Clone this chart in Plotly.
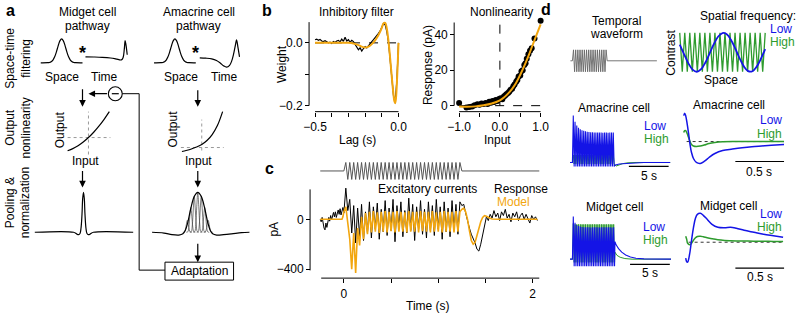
import plotly.graph_objects as go

W, H = 800, 315
FONT = "Liberation Sans, Arial, Helvetica, sans-serif"
BLUE = "#1414e6"
GREEN = "#2e9b2e"
ORANGE = "#F2A60F"
GRAY = "#555555"

# ======================= DATA =======================
# ---- panel a : schematic model ----
space_x = [-3, -2, -1.75, -1.5, -1.25, -1, -0.75, -0.5, -0.25, 0, 0.25, 0.5, 0.75, 1, 1.25, 1.5, 1.75, 2, 3]
space_y = [0, 0.004, 0.014, 0.044, 0.114, 0.249, 0.458, 0.707, 0.917, 1, 0.917, 0.707, 0.458, 0.249, 0.114, 0.044, 0.014, 0.004, 0]

midget_time_t = [0, 0.2, 0.4, 0.6, 0.7, 0.8, 0.86, 0.9, 0.93, 0.95, 0.97, 1.0]
midget_time_y = [0, -0.01, -0.03, -0.07, -0.11, -0.17, -0.18, -0.05, 0.45, 0.95, 0.7, 0.12]

amacrine_time_t = [0, 0.15, 0.3, 0.42, 0.52, 0.6, 0.675, 0.75, 0.8, 0.85, 0.9, 0.925, 0.96, 1.0]
amacrine_time_y = [0, -0.02, -0.06, -0.15, -0.3, -0.45, -0.52, -0.42, -0.2, 0.2, 0.75, 1.0, 0.6, 0.05]

nl_input = [-1, -0.75, -0.5, -0.25, 0, 0.25, 0.5, 0.75, 1]
midget_nl_out = [-0.66, -0.555, -0.41, -0.225, 0, 0.265, 0.57, 0.915, 1.3]
amacrine_nl_in = [-0.95, -0.75, -0.5, -0.25, 0, 0.25, 0.5, 0.75, 1]
amacrine_nl_out = [-0.4, -0.3, -0.15, 0.05, 0.3, 0.7, 1.3, 2.2, 3.6]

kernel_x = [-4.9, -1.0, -0.7, -0.5, -0.35, -0.25, -0.15, -0.08, 0, 0.08, 0.15, 0.25, 0.35, 0.5, 0.7, 1.0, 5.0]
kernel_y = [0, 0, -0.04, -0.06, -0.03, 0.1, 0.45, 0.85, 1.0, 0.85, 0.45, 0.1, -0.03, -0.06, -0.04, 0, 0]

amac_env_x = [-4.6, -3.4, -2.6, -1.9, -1.5, -1.25, -1.0, -0.7, -0.35, 0, 0.35, 0.7, 1.0, 1.25, 1.5, 1.9, 2.6, 3.4, 4.4, 5.2]
amac_env_y = [0, -0.02, -0.06, -0.07, -0.04, 0.05, 0.25, 0.6, 0.9, 1.0, 0.9, 0.6, 0.25, 0.05, -0.04, -0.07, -0.06, -0.04, -0.01, 0]
amac_sub_centers = [-1.05, -0.7, -0.35, 0, 0.35, 0.7, 1.05]
amac_sub_heights = [0.3, 0.62, 0.9, 1.0, 0.9, 0.62, 0.3]
sub_x = [-0.45, -0.3, -0.2, -0.1, 0, 0.1, 0.2, 0.3, 0.45]
sub_y = [0, 0.02, 0.2, 0.65, 1.0, 0.65, 0.2, 0.02, 0]

# ---- panel b : inhibitory filter ----
filt_data_lag = [round(-0.5 + 0.01 * i, 2) for i in range(51)]
filt_data = [0.010, 0.012, 0.008, 0.011, 0.006, 0.004, 0.007, 0.003, 0.000, 0.002,
             -0.002, 0.004, 0.001, 0.006, 0.008, 0.003, 0.012, 0.005, 0.018, 0.006,
             0.010, 0.002, 0.008, 0.004, -0.004, -0.012, -0.022, -0.016, -0.026, -0.018,
             -0.012, -0.016, -0.008, -0.002, 0.004, 0.010, 0.016, 0.022, 0.030, 0.038,
             0.048, 0.062, 0.058, 0.036, 0.002, -0.050, -0.110, -0.168, -0.192, -0.120, 0.000]
filt_model_lag = [-0.5, -0.4, -0.3, -0.27, -0.24, -0.22, -0.2, -0.18, -0.16, -0.14, -0.12, -0.1, -0.09,
                  -0.08, -0.07, -0.06, -0.05, -0.04, -0.03, -0.025, -0.02, -0.015, -0.01, -0.005, 0.0]
filt_model = [0.0, 0.0, 0.0, -0.002, -0.007, -0.012, -0.015, -0.012, -0.004, 0.008, 0.025, 0.048, 0.062,
              0.064, 0.045, 0.005, -0.05, -0.11, -0.165, -0.185, -0.192, -0.175, -0.13, -0.07, 0.0]

# ---- panel b : nonlinearity ----
nl_dots_x = [-1.0, -0.82, -0.75, -0.68, -0.62, -0.55, -0.5, -0.45, -0.4, -0.35, -0.3, -0.26, -0.22, -0.18,
             -0.14, -0.1, -0.06, -0.02, 0.02, 0.06, 0.1, 0.13, 0.16, 0.2, 0.23, 0.26, 0.3, 0.33, 0.36, 0.4,
             0.43, 0.46, 0.5, 0.53, 0.56, 0.6, 0.63, 0.66, 0.7, 0.74, 0.78, 0.85, 1.0]
nl_dots_y = [1.5, -1.0, -0.8, -0.5, 0.2, 0.8, 0.5, 1.2, 0.9, 1.5, 1.0, 2.2, 1.6, 2.6,
             2.0, 3.2, 2.6, 3.8, 4.2, 3.6, 5.2, 5.8, 6.4, 7.2, 7.8, 8.8, 9.5, 11.0, 12.0, 13.5,
             14.5, 16.5, 17.0, 19.5, 20.0, 23.0, 24.0, 26.5, 29.0, 31.0, 32.5, 38.0, 48.0]
nl_curve_x = [-1, -0.8, -0.6, -0.4, -0.2, 0, 0.1, 0.2, 0.3, 0.4, 0.5, 0.6, 0.7, 0.8, 0.9, 1.0]
nl_curve_y = [-0.5, -0.6, -0.4, 0.2, 1.2, 3.0, 4.6, 6.8, 9.5, 13.0, 17.5, 22.5, 28.0, 34.0, 40.0, 46.0]

# ---- panel c : excitatory currents ----
c_pre_t = [round(-0.25 + 0.01 * i, 2) for i in range(25)]
c_pre_black = [0, -20, 15, -40, -70, -85, -30, -65, -20, 15, -15, 30, -5, 25, 55, 20, 60, 15, 45, 75, 40, 85, 35, 60, 95]
c_pre_model = [0] * 24 + [20]
c_stim_t = [round(1.25 / 60 * k, 4) for k in range(61)]
c_stim_black = [50, 250, 70, 160, -110, 110, -190, 90, -140, 120, -170, 60, -110, 140, -150, 100, -80, 130,
                -160, 80, -100, 150, -130, 90, -90, 160, -180, 110, -70, 140, -140, 70, -110, 170, -90, 120,
                -170, 100, -80, 150, -120, 80, -150, 140, -90, 110, -130, 160, -80, 100, -160, 140, -100, 90,
                -140, 150, -90, 120, -120, 140, 110]
c_stim_model = [60, 100, -60, -160, -400, -110, -430, -70, -210, 20, -160, 50, -120,
                60, -105, 65, -100, 55, -110, 60, -100, 65, -105, 60, -95, 60, -105, 65, -100, 60, -100,
                55, -105, 65, -100, 60, -100, 60, -105, 65, -95, 60, -100, 60, -105, 65, -100, 55, -100,
                60, -105, 65, -100, 60, -100, 60, -105, 65, -100, 60, 80]
c_post_t = [round(1.27 + 0.02 * i, 2) for i in range(40)]
c_post_black = [120, 50, -20, -70, -120, -150, -190, -240, -255, -200, -120, -40, 20, -10, 40, 10, 70, 20, 50, -10,
                60, 30, 80, 10, 40, -20, 50, 20, 60, -10, 30, 50, 0, 40, 10, -30, 30, 0, 20, -10]
c_post_model = [90, 60, 0, -90, -170, -200, -185, -130, -70, -20, 15, 30, 25, 15, 8, 3, 0, 0, 0, 0,
                0, 0, 0, 0, 0, 0, 0, 0, 0, 0, 0, 0, 0, 0, 0, 0, 0, 0, 0, 0]
c_stim_wave = [0] + [1, -1] * 29 + [1, 0]

# ---- panel d ----
temporal_cycles = 16
spatial_low_x = [0, 0.05, 0.1, 0.15, 0.2, 0.25, 0.3, 0.35, 0.4, 0.45, 0.5, 0.55, 0.6, 0.65, 0.7, 0.75, 0.8, 0.85, 0.9, 0.95, 1.0]
spatial_low_y = [0.40, -0.09, -0.557, -0.887, -1.0, -0.868, -0.523, -0.051, 0.434, 0.813, 0.993, 0.928, 0.636, 0.19,
                 -0.303, -0.722, -0.968, -0.973, -0.736, -0.326, 0.17]
spatial_high_y = [1, -1] * 17 + [1]

am_low_top = [1.57, 1.36, 1.24, 1.16, 1.11, 1.08, 1.06, 1.04, 1.03, 1.02, 1.01, 1.01, 1.0, 1.0, 1.0, 1.0, 1.0, 0.99,
              1.0, 1.0, 0.99, 1.0, 1.0, 1.0]
am_low_bottom = -0.13
am_low_post_t = [5.25, 5.4, 5.6, 5.9, 6.3, 6.8, 7.5, 9.0, 12.3]
am_low_post_y = [-0.13, -0.08, -0.06, -0.05, -0.04, -0.03, -0.015, 0.0, 0.0]
am_high_top = [0.25] * 24
am_high_bottom = -0.05
am_high_post_t = [5.25, 5.5, 5.8, 6.3, 7.0, 8.0, 12.3]
am_high_post_y = [-0.05, -0.12, -0.08, -0.04, -0.01, 0, 0]

mg_low_top = [1.34, 1.14, 1.07, 1.04, 1.02, 1.01, 1.0, 1.0, 1.0, 1.0, 0.99, 1.0, 1.0, 1.0, 1.0, 0.99, 1.0, 1.0,
              1.0, 1.0, 1.0, 1.0, 0.99, 1.0]
mg_low_bottom = -0.22
mg_low_post_t = [5.3, 5.35, 5.5, 5.8, 6.2, 6.7, 7.3, 8.0, 9.0, 12.4]
mg_low_post_y = [-0.22, 0.55, 0.45, 0.33, 0.22, 0.13, 0.07, 0.03, 0.01, 0.0]
mg_high_top = [1.12] + [1.09] * 23
mg_high_bottom = -0.1
mg_high_post_t = [5.3, 5.35, 5.6, 6.0, 6.6, 7.5, 12.4]
mg_high_post_y = [-0.1, 0.22, 0.12, 0.06, 0.02, 0, 0]

amr_t = [0, 0.01, 0.02, 0.035, 0.05, 0.065, 0.08, 0.1, 0.13, 0.17, 0.21, 0.26, 0.32, 0.4, 0.5, 0.6, 0.7, 0.8, 0.9, 1.03]
amr_low = [2.6, 2.85, 2.6, 1.8, 0.8, -0.3, -1.1, -1.7, -2.1, -2.2, -2.0, -1.6, -1.2, -0.9, -0.75, -0.62, -0.52, -0.45, -0.38, -0.3]
amr_high = [0.9, 1.1, 1.1, 0.8, 0.4, 0.0, -0.3, -0.45, -0.5, -0.45, -0.35, -0.2, -0.1, -0.03, 0, 0, 0, 0, 0, 0]

mgr_t = [0, 0.01, 0.02, 0.04, 0.06, 0.08, 0.1, 0.12, 0.15, 0.18, 0.22, 0.27, 0.33, 0.4, 0.46, 0.52, 0.6, 0.7, 0.8, 0.9, 1.0]
mgr_low = [-1.6, -1.95, -2.0, -1.2, 0.2, 1.5, 2.4, 2.8, 2.9, 2.7, 2.3, 1.8, 1.5, 1.45, 1.5, 1.4, 1.2, 1.0, 0.8, 0.65, 0.5]
mgr_high = [0.6, 0.3, -0.1, -0.25, -0.1, 0.2, 0.45, 0.58, 0.6, 0.55, 0.45, 0.35, 0.25, 0.18, 0.15, 0.13, 0.12, 0.1, 0.1, 0.08, 0.08]

# ======================= FIGURE =======================
fig = go.Figure()
layout = dict(width=W, height=H, margin=dict(l=0, r=0, t=0, b=0), paper_bgcolor="white",
              plot_bgcolor="rgba(0,0,0,0)", showlegend=False, font=dict(family=FONT, size=12, color="black"))
shapes = []
annotations = []
n_ax = [0]


def lin(m, p):
    v0, p0, v1, p1 = m
    return v0 + (p - p0) * (v1 - v0) / (p1 - p0)


def inv(m, v):
    v0, p0, v1, p1 = m
    return p0 + (v - v0) * (p1 - p0) / (v1 - v0)


def make_axes(xpix, ypix, xmap, ymap, xticks=None, yticks=None):
    n_ax[0] += 1
    i = n_ax[0]
    s = "" if i == 1 else str(i)
    xa = dict(domain=[xpix[0] / W, xpix[1] / W], range=[lin(xmap, xpix[0]), lin(xmap, xpix[1])],
              visible=False, fixedrange=True, anchor="y" + s, showgrid=False, zeroline=False)
    ya = dict(domain=[1 - ypix[1] / H, 1 - ypix[0] / H], range=[lin(ymap, ypix[1]), lin(ymap, ypix[0])],
              visible=False, fixedrange=True, anchor="x" + s, showgrid=False, zeroline=False)
    tstyle = dict(visible=True, showline=False, ticks="outside", ticklen=4, tickwidth=1, tickcolor="black",
                  tickfont=dict(size=12, family=FONT, color="black"), tickmode="array")
    if xticks:
        vals, texts, pos = xticks
        xa.update(tstyle)
        xa.update(tickvals=vals, ticktext=texts, anchor="free", position=1 - pos / H)
    if yticks:
        vals, texts, pos = yticks
        ya.update(tstyle)
        ya.update(tickvals=vals, ticktext=texts, anchor="free", position=pos / W)
    layout["xaxis" + s] = xa
    layout["yaxis" + s] = ya
    return dict(x="x" + s, y="y" + s, xm=xmap, ym=ymap)


def line(ax, x, y, color="black", width=1.2, dash=None, shape="linear"):
    fig.add_trace(go.Scatter(x=x, y=y, mode="lines", xaxis=ax["x"], yaxis=ax["y"], hoverinfo="skip",
                             line=dict(color=color, width=width, dash=dash, shape=shape)))


def pline(x0, y0, x1, y1, color="black", width=1, dash=None):
    shapes.append(dict(type="line", xref="paper", yref="paper", x0=x0 / W, y0=1 - y0 / H, x1=x1 / W, y1=1 - y1 / H,
                       line=dict(color=color, width=width, dash=dash)))


def xaxis_line(ax, v0, v1, pix_y):
    pline(inv(ax["xm"], v0), pix_y, inv(ax["xm"], v1), pix_y)


def yaxis_line(ax, v0, v1, pix_x):
    pline(pix_x, inv(ax["ym"], v0), pix_x, inv(ax["ym"], v1))


def scale_bar(ax, t0, length, level):
    pline(inv(ax["xm"], t0), inv(ax["ym"], level), inv(ax["xm"], t0 + length), inv(ax["ym"], level), width=1.2)


def txt(x, y, s, size=12, color="black", xa="center", angle=0, bold=False):
    annotations.append(dict(x=x / W, y=1 - y / H, xref="paper", yref="paper", text=("<b>%s</b>" % s if bold else s),
                            showarrow=False, font=dict(size=size, color=color, family=FONT), xanchor=xa,
                            yanchor="middle", textangle=angle))


def arrow(xh, yh, xt, yt):
    annotations.append(dict(x=xh / W, y=1 - yh / H, xref="paper", yref="paper", ax=xt - xh, ay=yt - yh,
                            axref="pixel", ayref="pixel", text="", showarrow=True, arrowhead=2, arrowsize=1.1,
                            arrowwidth=1.2, arrowcolor="black", standoff=0))


def zigzag(t0, t1, tops, bottom):
    n = len(tops)
    h = (t1 - t0) / (2 * n)
    ts, ys = [], []
    for i, top in enumerate(tops):
        ts += [t0 + (2 * i + 1) * h, t0 + (2 * i + 2) * h]
        ys += [top, bottom]
    return ts, ys


# ---------------- panel a ----------------
txt(8, 11, "a", size=16, bold=True)
txt(85, 12, "Midget cell")
txt(85, 26, "pathway")
txt(197, 12, "Amacrine cell")
txt(197, 26, "pathway")
txt(15, 58, "Space-time<br>filtering", angle=-90)
txt(15, 128, "Output<br>nonlinearity", angle=-90)
txt(15, 203, "Pooling &amp;<br>normalization", angle=-90)

a1 = make_axes((34, 84), (36, 66), (-3, 38, 3, 80), (0, 63, 1, 39))
line(a1, space_x, space_y, shape="spline")
a2 = make_axes((80, 128), (36, 66), (0, 83, 1, 125), (0, 57, 1, 40))
line(a2, midget_time_t, midget_time_y, shape="spline")
a3 = make_axes((148, 197), (36, 66), (-3, 152, 3, 194), (0, 63, 1, 39))
line(a3, space_x, space_y, shape="spline")
a4 = make_axes((195, 241), (36, 72), (0, 198, 1, 238), (0, 58, 1, 40))
line(a4, amacrine_time_t, amacrine_time_y, shape="spline")
txt(80, 53, "*", size=18, bold=True)
txt(194, 53, "*", size=18, bold=True)
txt(59, 77, "Space")
txt(102, 77, "Time")
txt(179, 77, "Space")
txt(223, 77, "Time")

a5 = make_axes((60, 112), (108, 158), (0, 86, 1, 107), (0, 138, 1, 118))
line(a5, [0, 0], [-0.85, 1.3], color="#999999", width=1, dash="dot")
line(a5, [-1, 1.05], [0, 0], color="#999999", width=1, dash="dot")
line(a5, nl_input, midget_nl_out, shape="spline")
a6 = make_axes((175, 225), (108, 158), (0, 200, 1, 221), (0, 148, 1, 138))
line(a6, [0, 0], [-0.3, 2.8], color="#999999", width=1, dash="dot")
line(a6, [-1, 1.05], [0, 0], color="#999999", width=1, dash="dot")
line(a6, amacrine_nl_in, amacrine_nl_out, shape="spline")
txt(57, 130, "Output", angle=-90)
txt(171, 129, "Output", angle=-90)
txt(83, 162, "Input")
txt(197, 162, "Input")

a7 = make_axes((28, 135), (188, 240), (0, 81, 1, 91), (0, 233, 1, 193))
line(a7, kernel_x, kernel_y, shape="spline")
a8 = make_axes((146, 252), (188, 240), (0, 196, 1, 206), (0, 233, 1, 193))
for c, h in zip(amac_sub_centers, amac_sub_heights):
    line(a8, [c + v for v in sub_x], [h * v for v in sub_y], color="#444444", width=0.7, shape="spline")
line(a8, amac_env_x, amac_env_y, shape="spline")

arrow(80, 107, 80, 88)
arrow(196, 107, 196, 89)
arrow(80, 188, 80, 170)
arrow(196, 188, 196, 170)
arrow(196, 263, 196, 243)
arrow(86, 94, 106, 94)
shapes.append(dict(type="circle", xref="paper", yref="paper", x0=106 / W, x1=120 / W, y0=1 - 101 / H, y1=1 - 87 / H,
                   line=dict(color="black", width=1.1)))
pline(109.5, 94, 116.5, 94, width=1.2)
pline(120, 94, 137, 94)
pline(137, 94, 137, 271)
pline(137, 271, 163, 271)
shapes.append(dict(type="rect", xref="paper", yref="paper", x0=163 / W, x1=232 / W, y0=1 - 281 / H, y1=1 - 263 / H,
                   line=dict(color="black", width=1)))
txt(197.5, 272, "Adaptation")

# ---------------- panel b ----------------
txt(266, 11, "b", size=16, bold=True)
txt(356, 12, "Inhibitory filter")
txt(502, 12, "Nonlinearity")
b1 = make_axes((300, 410), (15, 115), (-0.5, 314, 0, 398), (0, 43, -0.2, 106),
               xticks=([-0.5, -0.4, -0.3, -0.2, -0.1, 0.0], ["\u22120.5", "", "", "", "", "0.0"], 112),
               yticks=([-0.2, -0.1, 0.0], ["\u22120.2", "", "0.0"], 308))
xaxis_line(b1, -0.5, 0.0, 112)
yaxis_line(b1, -0.2, 0.066, 308)
line(b1, [-0.5, 0.02], [0, 0], width=1, dash="dash")
line(b1, filt_data_lag, filt_data, width=1.2)
line(b1, filt_model_lag, filt_model, color=ORANGE, width=2, shape="spline")
txt(281, 64, "Weight", angle=-90)
txt(357, 140, "Lag (s)")

b2 = make_axes((450, 548), (12, 112), (-1, 459, 1, 541), (0, 106, 40, 35),
               xticks=([-1, -0.5, 0, 0.5, 1], ["\u22121.0", "", "0.0", "", "1.0"], 112),
               yticks=([0, 20, 40], ["0", "20", "40"], 454))
xaxis_line(b2, -1, 1, 112)
yaxis_line(b2, 0, 47, 454)
line(b2, [0, 0], [0, 47], width=1, dash="dash")
line(b2, [-1, 1], [0, 0], width=1, dash="dash")
fig.add_trace(go.Scatter(x=nl_dots_x, y=nl_dots_y, mode="markers", xaxis=b2["x"], yaxis=b2["y"], cliponaxis=False,
                         hoverinfo="skip", marker=dict(color="black", size=6)))
line(b2, nl_curve_x, nl_curve_y, color=ORANGE, width=2, shape="spline")
txt(427, 65, "Response (pA)", angle=-90)
txt(498, 140, "Input")

# ---------------- panel c ----------------
txt(268, 169, "c", size=16, bold=True)
c1 = make_axes((315, 545), (158, 185), (0, 343, 2, 533), (1, 163, -1, 180))
line(c1, [-0.25] + c_stim_t + [2.07], [0] + c_stim_wave + [0], color=GRAY, width=1)
c2 = make_axes((315, 545), (180, 285), (0, 343, 2, 533), (0, 220, -400, 270),
               xticks=([0, 0.5, 1, 1.5, 2], ["0", "", "", "", "2"], 279),
               yticks=([-400, 0], ["\u2212400", "0"], 309))
xaxis_line(c2, -0.24, 2.07, 279)
yaxis_line(c2, -410, 240, 309)
c_time = c_pre_t + c_stim_t + c_post_t
line(c2, c_time, c_pre_black + c_stim_black + c_post_black, width=1)
line(c2, c_time, c_pre_model + c_stim_model + c_post_model, color=ORANGE, width=1.6)
txt(273, 230, "pA", angle=-90)
txt(428, 307, "Time (s)")
txt(427, 190, "Excitatory currents")
txt(492, 190, "Response", xa="left")
txt(495, 203, "Model", color=ORANGE, xa="left")

# ---------------- panel d ----------------
txt(546, 10, "d", size=16, bold=True)
txt(617, 21, "Temporal")
txt(617, 34, "waveform")
d1 = make_axes((565, 662), (45, 77), (0, 571, 1, 658), (1, 50, -1, 72))
wt, wy = zigzag(0.023, 0.425, [1] * temporal_cycles, -1)
line(d1, [0, 0.023] + wt + [1.0], [0, 0] + wy[:-1] + [0, 0], color="#666666", width=0.9)

txt(750, 16, "Spatial frequency:")
txt(770, 29, "Low", color=BLUE, xa="left")
txt(770, 42, "High", color=GREEN, xa="left")
txt(672, 53, "Contrast", angle=-90)
txt(723, 80, "Space")
d2 = make_axes((675, 772), (28, 77), (0, 681, 1, 767), (1, 33, -1, 72))
line(d2, [i / 34 for i in range(35)], spatial_high_y, color=GREEN, width=1.3)
line(d2, spatial_low_x, spatial_low_y, color=BLUE, width=1.8, shape="spline")

# amacrine, long time scale
d3 = make_axes((565, 675), (110, 172), (0, 573, 5, 613), (0, 163, 1, 133))
ht, hy = zigzag(0, 5.25, am_high_top, am_high_bottom)
line(d3, [-0.3, 0] + ht + am_high_post_t, [0, 0] + hy + am_high_post_y, color=GREEN, width=1)
lt, ly = zigzag(0, 5.25, am_low_top, am_low_bottom)
line(d3, [-0.3, 0] + lt + am_low_post_t, [0, 0] + ly + am_low_post_y, color=BLUE, width=1.1)
scale_bar(d3, 7.1, 5, -0.13)
txt(615, 108, "Amacrine cell")
txt(643, 126, "Low", color=BLUE, xa="left")
txt(643, 139, "High", color=GREEN, xa="left")
txt(650, 177, "5 s")

# amacrine, short time scale
d4 = make_axes((680, 792), (106, 170), (0, 685, 0.5, 734), (0, 142, 1, 132))
line(d4, [0.03, 1.03], [0, 0], width=0.8, dash="dot")
line(d4, amr_t, amr_high, color=GREEN, width=1.5, shape="spline")
line(d4, amr_t, amr_low, color=BLUE, width=1.5, shape="spline")
scale_bar(d4, 0.53, 0.5, -2.0)
txt(731, 105, "Amacrine cell")
txt(786, 120, "Low", color=BLUE, xa="right")
txt(786, 134, "High", color=GREEN, xa="right")
txt(761, 173, "0.5 s")

# midget, long time scale
d5 = make_axes((565, 675), (210, 272), (0, 573, 5, 613), (0, 260, 1, 228))
ht, hy = zigzag(0, 5.3, mg_high_top, mg_high_bottom)
line(d5, [-0.3, 0] + ht + mg_high_post_t, [0, 0] + hy + mg_high_post_y, color=GREEN, width=1)
lt, ly = zigzag(0, 5.3, mg_low_top, mg_low_bottom)
line(d5, [-0.3, 0] + lt + mg_low_post_t, [0, 0] + ly + mg_low_post_y, color=BLUE, width=1.1)
scale_bar(d5, 7.25, 5, -0.16)
txt(615, 208, "Midget cell")
txt(642, 228, "Low", color=BLUE, xa="left")
txt(642, 241, "High", color=GREEN, xa="left")
txt(651, 274, "5 s")

# midget, short time scale
d6 = make_axes((680, 792), (205, 272), (0, 687, 0.5, 736), (0, 243, 1, 233))
line(d6, [0.03, 1.0], [0, 0], width=0.8, dash="dot")
line(d6, mgr_t, mgr_high, color=GREEN, width=1.5, shape="spline")
line(d6, mgr_t, mgr_low, color=BLUE, width=1.5, shape="spline")
scale_bar(d6, 0.51, 0.5, -2.6)
txt(730, 207, "Midget cell")
txt(786, 215, "Low", color=BLUE, xa="right")
txt(786, 228, "High", color=GREEN, xa="right")
txt(762, 278, "0.5 s")

layout["shapes"] = shapes
layout["annotations"] = annotations
fig.update_layout(**layout)
fig.write_html("out.html", config={"displayModeBar": False},
               post_script="document.body.style.margin='0';document.body.style.padding='0';"
                           "document.body.style.overflow='hidden';")
